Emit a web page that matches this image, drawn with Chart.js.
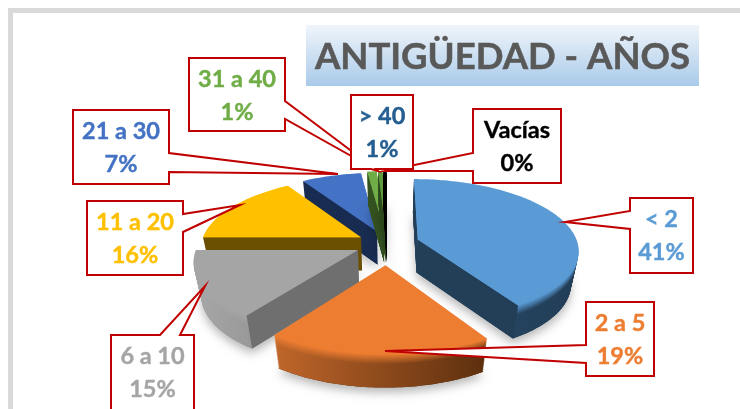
<!DOCTYPE html>
<html>
<head>
<meta charset="utf-8">
<style>html,body{margin:0;padding:0;background:#fff;overflow:hidden}canvas{display:block}</style>
<script src="https://cdn.jsdelivr.net/npm/chart.js@4"></script>
</head>
<body>
<canvas id="c" width="740" height="409"></canvas>
<script>
const titleText = 'ANTIGÜEDAD - AÑOS';
const categories = ['< 2', '2 a 5', '6 a 10', '11 a 20', '21 a 30', '31 a 40', '> 40', 'Vacías'];
const values = [41, 19, 15, 16, 7, 1.1, 0.5, 0.4];
const percentLabels = ['41%', '19%', '15%', '16%', '7%', '1%', '1%', '0%'];
const sliceColors = ['#5b9bd5', '#ed7d31', '#a5a5a5', '#ffc000', '#4472c4', '#70ad47', '#5f9a3c', '#000000'];
const labelColors = ['#5b9bd5', '#ed7d31', '#a5a5a5', '#ffc000', '#4472c4', '#70ad47', '#255e91', '#000000'];
const sliceOffsets = [29, 43, 29, 27, 27, 30, 30, 30];

const wallFlat = ['#233f58', '#7a3f14', '#6f6f6f', '#6b4f00', '#182c52', '#34521f', '#2c4a1b', '#000000'];
const wallLeft = ['#2a4d6c', '#c0662a', '#a8a8a8', '#8a6600', '#1e3663', '#3f6428', '#2c4a1b', '#000000'];
const wallRight = ['#223d56', '#5c2f0e', '#7c7c7c', '#6b4f00', '#182c52', '#34521f', '#2c4a1b', '#000000'];
const drawOrder = [4, 5, 6, 7, 0, 3, 2, 1];

const RX = 160, RY = 70, PERSP = 0.14, DEPTH = 33, BEVEL = 10;

function project(cx, cy, x, y, d) {
  const w = 1 - PERSP * y;
  const X = cx + RX * x / w, Y = cy + RY * y / w;
  return [cx + (X - cx) * (1 - 0.04 * d / DEPTH), Y + d];
}
function mix(a, b, t) {
  const p = h => [1, 3, 5].map(i => parseInt(h.substr(i, 2), 16));
  const A = p(a), B = p(b);
  return 'rgb(' + A.map((v, i) => Math.round(v + (B[i] - v) * t)).join(',') + ')';
}

Chart.ArcElement.prototype.draw = function (ctx) {
  const i = this.$context.dataIndex;
  const s = this.startAngle, e = this.endAngle, mid = (s + e) / 2;
  const eo = (this.options.offset || 0) / this.outerRadius;
  const ox = Math.cos(mid) * eo, oy = Math.sin(mid) * eo;
  const cx = this.x, cy = this.y;
  const n = Math.max(4, Math.ceil((e - s) / 0.02));
  const pts = [[ox, oy]];
  for (let k = 0; k <= n; k++) {
    const a = s + (e - s) * k / n;
    pts.push([ox + Math.cos(a), oy + Math.sin(a)]);
  }
  const path = (list, d) => {
    ctx.beginPath();
    list.forEach((p, k) => {
      const q = project(cx, cy, p[0], p[1], d);
      k ? ctx.lineTo(q[0], q[1]) : ctx.moveTo(q[0], q[1]);
    });
    ctx.closePath();
  };
  const top = this.options.backgroundColor;
  let minX = 1e9, maxX = -1e9;
  pts.forEach(p => { const q = project(cx, cy, p[0], p[1], 0); minX = Math.min(minX, q[0]); maxX = Math.max(maxX, q[0]); });

  ctx.save();
  ctx.shadowColor = 'rgba(0,0,0,0.28)';
  ctx.shadowBlur = 10;
  ctx.shadowOffsetY = 5;
  ctx.fillStyle = wallRight[i];
  path(pts, DEPTH);
  ctx.fill();
  ctx.restore();

  for (let d = DEPTH; d >= 1; d--) {
    const t = Math.min(d / BEVEL, 1);
    const g = ctx.createLinearGradient(minX, 0, Math.max(maxX, minX + 1), 0);
    g.addColorStop(0, mix(top, wallLeft[i], t));
    g.addColorStop(1, mix(top, wallRight[i], t));
    ctx.fillStyle = g;
    path(pts, d);
    ctx.fill();
  }

  const eyeY = 1 / PERSP;
  const face = (a, nx, ny) => {
    if (nx * (0 - ox) + ny * (eyeY - oy) <= 0) return;
    const r = [ox + Math.cos(a), oy + Math.sin(a)];
    const A = project(cx, cy, ox, oy, 0), B = project(cx, cy, r[0], r[1], 0);
    const C = project(cx, cy, r[0], r[1], DEPTH), D = project(cx, cy, ox, oy, DEPTH);
    ctx.fillStyle = wallFlat[i];
    ctx.beginPath();
    ctx.moveTo(A[0], A[1]); ctx.lineTo(B[0], B[1]); ctx.lineTo(C[0], C[1]); ctx.lineTo(D[0], D[1]);
    ctx.closePath();
    ctx.fill();
  };
  face(s, Math.sin(s), -Math.cos(s));
  face(e, -Math.sin(e), Math.cos(e));

  ctx.fillStyle = top;
  path(pts, 0);
  ctx.fill();
};

const callouts = [
  { i: 5, x: 189, y: 58, w: 96, h: 73, side: 'r', a: 101, b: 119, tx: 378, ty: 171 },
  { i: 4, x: 73, y: 110, w: 96, h: 74, side: 'r', a: 153, b: 172, tx: 338, ty: 174 },
  { i: 3, x: 87, y: 201, w: 96, h: 74, side: 'r', a: 214, b: 232, tx: 240, ty: 205 },
  { i: 2, x: 111, y: 335, w: 83, h: 80, side: 't', a: 160, b: 180, tx: 205, ty: 286 },
  { i: 1, x: 586, y: 302, w: 68, h: 74, side: 'l', a: 345, b: 363, tx: 385, ty: 351 },
  { i: 0, x: 630, y: 198, w: 63, h: 75, side: 'l', a: 211, b: 229, tx: 565, ty: 222 },
  { i: 7, x: 473, y: 109, w: 88, h: 74, side: 'l', a: 153, b: 171, tx: 385, ty: 171 },
  { i: 6, x: 351, y: 95, w: 62, h: 74, side: 'b', a: 371, b: 376, tx: 378, ty: 171 }
];

const framePlugin = {
  id: 'frame',
  beforeDraw(chart) {
    const ctx = chart.ctx;
    ctx.save();
    ctx.fillStyle = '#d9d9d9';
    ctx.fillRect(8, 8, 732, 5);
    ctx.fillRect(8, 8, 5, 401);
    const g = ctx.createLinearGradient(0, 25, 0, 86);
    g.addColorStop(0, '#f0f5fb');
    g.addColorStop(1, '#a9cae9');
    ctx.fillStyle = g;
    ctx.fillRect(306, 25, 393, 61);
    ctx.fillStyle = '#595959';
    ctx.strokeStyle = '#595959';
    ctx.lineWidth = 0.5;
    ctx.font = '700 36.5px Lato';
    ctx.textAlign = 'center';
    ctx.textBaseline = 'middle';
    ctx.fillText(titleText, 502.5, 57);
    ctx.strokeText(titleText, 502.5, 57);
    ctx.restore();
  },
  beforeDatasetsDraw(chart) {
    const meta = chart.getDatasetMeta(0);
    drawOrder.forEach(k => meta.data[k].draw(chart.ctx));
    return false;
  },
  afterDraw(chart) {
    const ctx = chart.ctx;
    ctx.save();
    callouts.forEach(c => {
      const r = c.x + c.w, b = c.y + c.h;
      ctx.beginPath();
      ctx.moveTo(c.x, c.y);
      if (c.side === 't') { ctx.lineTo(c.a, c.y); ctx.lineTo(c.tx, c.ty); ctx.lineTo(c.b, c.y); }
      ctx.lineTo(r, c.y);
      if (c.side === 'r') { ctx.lineTo(r, c.a); ctx.lineTo(c.tx, c.ty); ctx.lineTo(r, c.b); }
      ctx.lineTo(r, b);
      if (c.side === 'b') { ctx.lineTo(c.b, b); ctx.lineTo(c.tx, c.ty); ctx.lineTo(c.a, b); }
      ctx.lineTo(c.x, b);
      if (c.side === 'l') { ctx.lineTo(c.x, c.b); ctx.lineTo(c.tx, c.ty); ctx.lineTo(c.x, c.a); }
      ctx.closePath();
      ctx.fillStyle = '#fff';
      ctx.fill();
      ctx.strokeStyle = '#c00000';
      ctx.lineWidth = 2;
      ctx.lineJoin = 'miter';
      ctx.stroke();
      ctx.fillStyle = labelColors[c.i];
      ctx.strokeStyle = labelColors[c.i];
      ctx.lineWidth = 0.4;
      ctx.font = '700 23.5px Lato';
      ctx.textAlign = 'center';
      ctx.textBaseline = 'middle';
      const mx = c.x + c.w / 2, my = c.y + 37.5;
      [[categories[c.i], my - 16.5], [percentLabels[c.i], my + 16.5]].forEach(l => {
        ctx.fillText(l[0], mx, l[1]);
        ctx.strokeText(l[0], mx, l[1]);
      });
    });
    ctx.restore();
  }
};

new Chart(document.getElementById('c'), {
  type: 'pie',
  data: {
    labels: categories,
    datasets: [{ data: values, backgroundColor: sliceColors, offset: sliceOffsets, borderWidth: 0 }]
  },
  options: {
    responsive: false,
    animation: false,
    layout: { padding: { left: 34, top: 78, right: 0, bottom: 0 } },
    plugins: { legend: { display: false }, tooltip: { enabled: false } }
  },
  plugins: [framePlugin]
});
</script>
</body>
</html>
